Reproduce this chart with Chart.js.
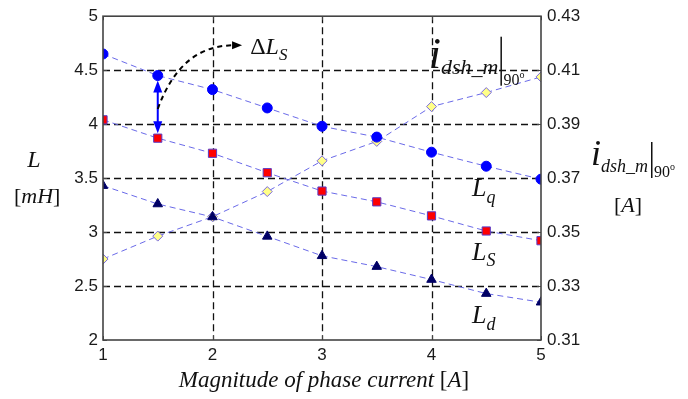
<!DOCTYPE html>
<html><head><meta charset="utf-8">
<script src="https://cdn.jsdelivr.net/npm/chart.js@4/dist/chart.umd.min.js"></script>
<style>html,body{margin:0;padding:0;background:#fff;}</style>
</head><body>
<canvas id="c" width="688" height="399" style="display:block;width:688px;height:399px"></canvas>
<script>
// ---- data ----
const currents = [1, 1.5, 2, 2.5, 3, 3.5, 4, 4.5, 5];           // phase current [A]
const Lq = [4.65, 4.45, 4.32, 4.15, 3.98, 3.88, 3.74, 3.61, 3.49]; // mH
const Ls = [4.04, 3.87, 3.73, 3.55, 3.38, 3.28, 3.15, 3.01, 2.92]; // mH
const Ld = [3.43, 3.26, 3.14, 2.96, 2.78, 2.68, 2.56, 2.43, 2.35]; // mH
const idsh = [0.340, 0.3485, 0.3557, 0.365, 0.3764, 0.3836, 0.3965, 0.4017, 0.4075]; // A
const xTicks = [1, 2, 3, 4, 5];
const yTicks = ['2', '2.5', '3', '3.5', '4', '4.5', '5'];
const y1Ticks = ['0.31', '0.33', '0.35', '0.37', '0.39', '0.41', '0.43'];

const SERIF = "'Liberation Serif','Times New Roman',serif";
const SANS = "'Liberation Sans',Arial,sans-serif";
const pts = arr => currents.map((c, i) => ({x: c, y: arr[i]}));
const LINE = '#6a6ae8';

function runs(ctx, x, y, parts) {
  let cx = x;
  for (const p of parts) {
    ctx.font = p.f;
    const sx = p.sx || 1;
    ctx.save();
    ctx.translate(cx + (p.dx || 0), y + (p.dy || 0));
    ctx.scale(sx, 1);
    ctx.fillText(p.t, 0, 0);
    ctx.restore();
    cx += ctx.measureText(p.t).width * sx + (p.dx || 0);
  }
  return cx;
}
function arrowHead(ctx, tx, ty, ang, len, wid) {
  ctx.beginPath();
  ctx.moveTo(tx, ty);
  ctx.lineTo(tx - len * Math.cos(ang) + wid * Math.sin(ang), ty - len * Math.sin(ang) - wid * Math.cos(ang));
  ctx.lineTo(tx - len * Math.cos(ang) - wid * Math.sin(ang), ty - len * Math.sin(ang) + wid * Math.cos(ang));
  ctx.closePath();
  ctx.fill();
}

const deco = {
  id: 'deco',
  beforeDatasetsDraw(chart) {
    const {ctx, chartArea: a, scales: {x, y}} = chart;
    ctx.save();
    ctx.strokeStyle = '#111';
    ctx.lineWidth = 1.3;
    ctx.setLineDash([7, 4]);
    x.ticks.forEach(t => {
      if (t.value > x.min && t.value < x.max) {
        const px = Math.round(x.getPixelForValue(t.value)) + 0.5;
        ctx.beginPath(); ctx.moveTo(px, a.top); ctx.lineTo(px, a.bottom); ctx.stroke();
      }
    });
    y.ticks.forEach(t => {
      if (t.value > y.min + 1e-9 && t.value < y.max - 1e-9) {
        const py = Math.round(y.getPixelForValue(t.value)) + 0.5;
        ctx.beginPath(); ctx.moveTo(a.left, py); ctx.lineTo(a.right, py); ctx.stroke();
      }
    });
    ctx.setLineDash([]);
    ctx.strokeStyle = '#444';
    ctx.lineWidth = 1;
    x.ticks.forEach(t => {
      const px = Math.round(x.getPixelForValue(t.value)) + 0.5;
      ctx.beginPath(); ctx.moveTo(px, a.bottom); ctx.lineTo(px, a.bottom - 4);
      ctx.moveTo(px, a.top); ctx.lineTo(px, a.top + 4); ctx.stroke();
    });
    y.ticks.forEach(t => {
      const py = Math.round(y.getPixelForValue(t.value)) + 0.5;
      ctx.beginPath(); ctx.moveTo(a.left, py); ctx.lineTo(a.left + 4, py);
      ctx.moveTo(a.right, py); ctx.lineTo(a.right - 4, py); ctx.stroke();
    });
    ctx.restore();
  },
  afterDraw(chart) {
    const {ctx, chartArea: a, scales: {x, y}} = chart;
    const X = v => x.getPixelForValue(v), Y = v => y.getPixelForValue(v);
    ctx.save();
    // frame
    ctx.strokeStyle = '#444';
    ctx.lineWidth = 1.6;
    ctx.strokeRect(a.left, a.top, a.right - a.left, a.bottom - a.top);

    // blue double arrow between Lq and Ls at 1.5 A
    const ax = X(currents[1]);
    const yTop = Y(Lq[1]) + 5, yBot = Y(Ls[1]) - 5;
    ctx.strokeStyle = '#0000ff'; ctx.fillStyle = '#0000ff'; ctx.lineWidth = 2;
    ctx.beginPath(); ctx.moveTo(ax, yTop + 8); ctx.lineTo(ax, yBot - 8); ctx.stroke();
    arrowHead(ctx, ax, yTop, -Math.PI / 2, 12, 4.5);
    arrowHead(ctx, ax, yBot, Math.PI / 2, 12, 4.5);

    // dashed curved arrow to the ΔLs label
    const s = [X(1.5), Y(4.14)], c = [X(1.71), Y(4.73)], e = [X(2.19), Y(4.73)];
    ctx.strokeStyle = '#000'; ctx.fillStyle = '#000'; ctx.lineWidth = 2;
    ctx.setLineDash([5, 4]);
    ctx.beginPath(); ctx.moveTo(s[0], s[1]); ctx.quadraticCurveTo(c[0], c[1], e[0], e[1]); ctx.stroke();
    ctx.setLineDash([]);
    arrowHead(ctx, X(2.27), Y(4.73), 0, 10, 4);

    ctx.fillStyle = '#111';
    ctx.textBaseline = 'alphabetic';
    ctx.textAlign = 'left';
    // ΔLs
    runs(ctx, X(2.344), Y(4.649), [
      {t: 'Δ', f: `24px ${SERIF}`},
      {t: 'L', f: `italic 24px ${SERIF}`},
      {t: 'S', f: `italic 17px ${SERIF}`, dy: 6}
    ]);
    // curve labels
    runs(ctx, X(4.37), Y(3.338), [
      {t: 'L', f: `italic 26px ${SERIF}`},
      {t: 'q', f: `italic 18px ${SERIF}`, dy: 7}
    ]);
    runs(ctx, X(4.37), Y(2.738), [
      {t: 'L', f: `italic 26px ${SERIF}`},
      {t: 'S', f: `italic 18px ${SERIF}`, dy: 6}
    ]);
    runs(ctx, X(4.37), Y(2.156), [
      {t: 'L', f: `italic 26px ${SERIF}`},
      {t: 'd', f: `italic 18px ${SERIF}`, dy: 7}
    ]);
    // i_dsh_m|90° inside plot
    const iy = Y(4.52);
    let ex = runs(ctx, X(3.975), iy, [
      {t: 'i', f: `italic 44px ${SERIF}`},
      {t: 'dsh_m', f: `italic 22px ${SERIF}`, dy: 6}
    ]);
    ctx.fillRect(ex + 2, Y(4.81), 1.5, 49);
    runs(ctx, ex + 5, iy + 17, [
      {t: '90', f: `16px ${SERIF}`},
      {t: 'o', f: `10px ${SERIF}`, dy: -7}
    ]);

    // right axis title
    const rx = a.right + 50;
    ex = runs(ctx, rx, 165, [
      {t: 'i', f: `italic 36px ${SERIF}`},
      {t: 'dsh_m', f: `italic 18px ${SERIF}`, dy: 7}
    ]);
    ctx.fillRect(ex + 3, 142, 1.5, 36);
    runs(ctx, ex + 6, 177, [
      {t: '90', f: `16px ${SERIF}`},
      {t: 'o', f: `10px ${SERIF}`, dy: -7}
    ]);
    runs(ctx, rx + 23, 212, [
      {t: '[', f: `22px ${SERIF}`},
      {t: 'A', f: `italic 22px ${SERIF}`},
      {t: ']', f: `22px ${SERIF}`}
    ]);

    // left axis title
    ctx.font = `italic 24px ${SERIF}`;
    ctx.textAlign = 'center';
    ctx.fillText('L', 34, 167);
    ctx.textAlign = 'left';
    runs(ctx, 14, 203, [
      {t: '[', f: `22px ${SERIF}`},
      {t: 'mH', f: `italic 22px ${SERIF}`},
      {t: ']', f: `22px ${SERIF}`}
    ]);

    // x axis title, centered on the plot
    const parts = [
      {t: 'Magnitude of phase current ', f: `italic 23px ${SERIF}`},
      {t: '[', f: `23px ${SERIF}`},
      {t: 'A', f: `italic 23px ${SERIF}`},
      {t: ']', f: `23px ${SERIF}`}
    ];
    let w = 0;
    parts.forEach(p => { ctx.font = p.f; w += ctx.measureText(p.t).width; });
    runs(ctx, (a.left + a.right) / 2 - w / 2 + 2, 387, parts);
    ctx.restore();
  }
};

const tickFont = {family: SANS, size: 17};
new Chart(document.getElementById('c'), {
  type: 'line',
  data: {
    datasets: [
      {label: 'Lq', data: pts(Lq), yAxisID: 'y', borderColor: LINE, borderWidth: 1, borderDash: [6, 4],
       pointStyle: 'circle', pointRadius: 5, pointBackgroundColor: '#0000ff', pointBorderColor: '#0000ff', pointBorderWidth: 1},
      {label: 'Ls', data: pts(Ls), yAxisID: 'y', borderColor: LINE, borderWidth: 1, borderDash: [6, 4],
       pointStyle: 'rect', pointRadius: 5.8, pointBackgroundColor: '#ff0000', pointBorderColor: '#5a3cc8', pointBorderWidth: 1},
      {label: 'Ld', data: pts(Ld), yAxisID: 'y', borderColor: LINE, borderWidth: 1, borderDash: [6, 4],
       pointStyle: 'triangle', pointRadius: 5.5, pointBackgroundColor: '#000066', pointBorderColor: '#000066', pointBorderWidth: 1},
      {label: 'idsh', data: pts(idsh), yAxisID: 'y1', borderColor: LINE, borderWidth: 1, borderDash: [6, 4],
       pointStyle: 'rectRot', pointRadius: 5, pointBackgroundColor: '#ffff88', pointBorderColor: '#7a6ae0', pointBorderWidth: 1}
    ]
  },
  options: {
    responsive: false,
    animation: false,
    devicePixelRatio: 1,
    layout: {padding: {top: 15, left: 0, right: 0, bottom: 0}},
    plugins: {legend: {display: false}, tooltip: {enabled: false}},
    scales: {
      x: {
        type: 'linear', min: 1, max: 5,
        afterBuildTicks: s => { s.ticks = xTicks.map(v => ({value: v})); },
        ticks: {font: tickFont, color: '#1a1a1a', padding: 5, maxRotation: 0},
        grid: {display: false, drawTicks: false, tickLength: 0}, border: {display: false},
        afterFit: s => { s.height = 59; }
      },
      y: {
        type: 'linear', position: 'left', min: 2, max: 5,
        afterBuildTicks: s => { s.ticks = yTicks.map(v => ({value: parseFloat(v)})); },
        ticks: {font: tickFont, color: '#1a1a1a', padding: 5, callback: (v, i) => yTicks[i]},
        grid: {display: false, drawTicks: false, tickLength: 0}, border: {display: false},
        afterFit: s => { s.width = 103; }
      },
      y1: {
        type: 'linear', position: 'right', min: 0.31, max: 0.43,
        afterBuildTicks: s => { s.ticks = y1Ticks.map(v => ({value: parseFloat(v)})); },
        ticks: {font: tickFont, color: '#1a1a1a', padding: 6, callback: (v, i) => y1Ticks[i]},
        grid: {display: false, drawTicks: false, tickLength: 0}, border: {display: false},
        afterFit: s => { s.width = 147; }
      }
    }
  },
  plugins: [deco]
});
</script>
</body></html>
